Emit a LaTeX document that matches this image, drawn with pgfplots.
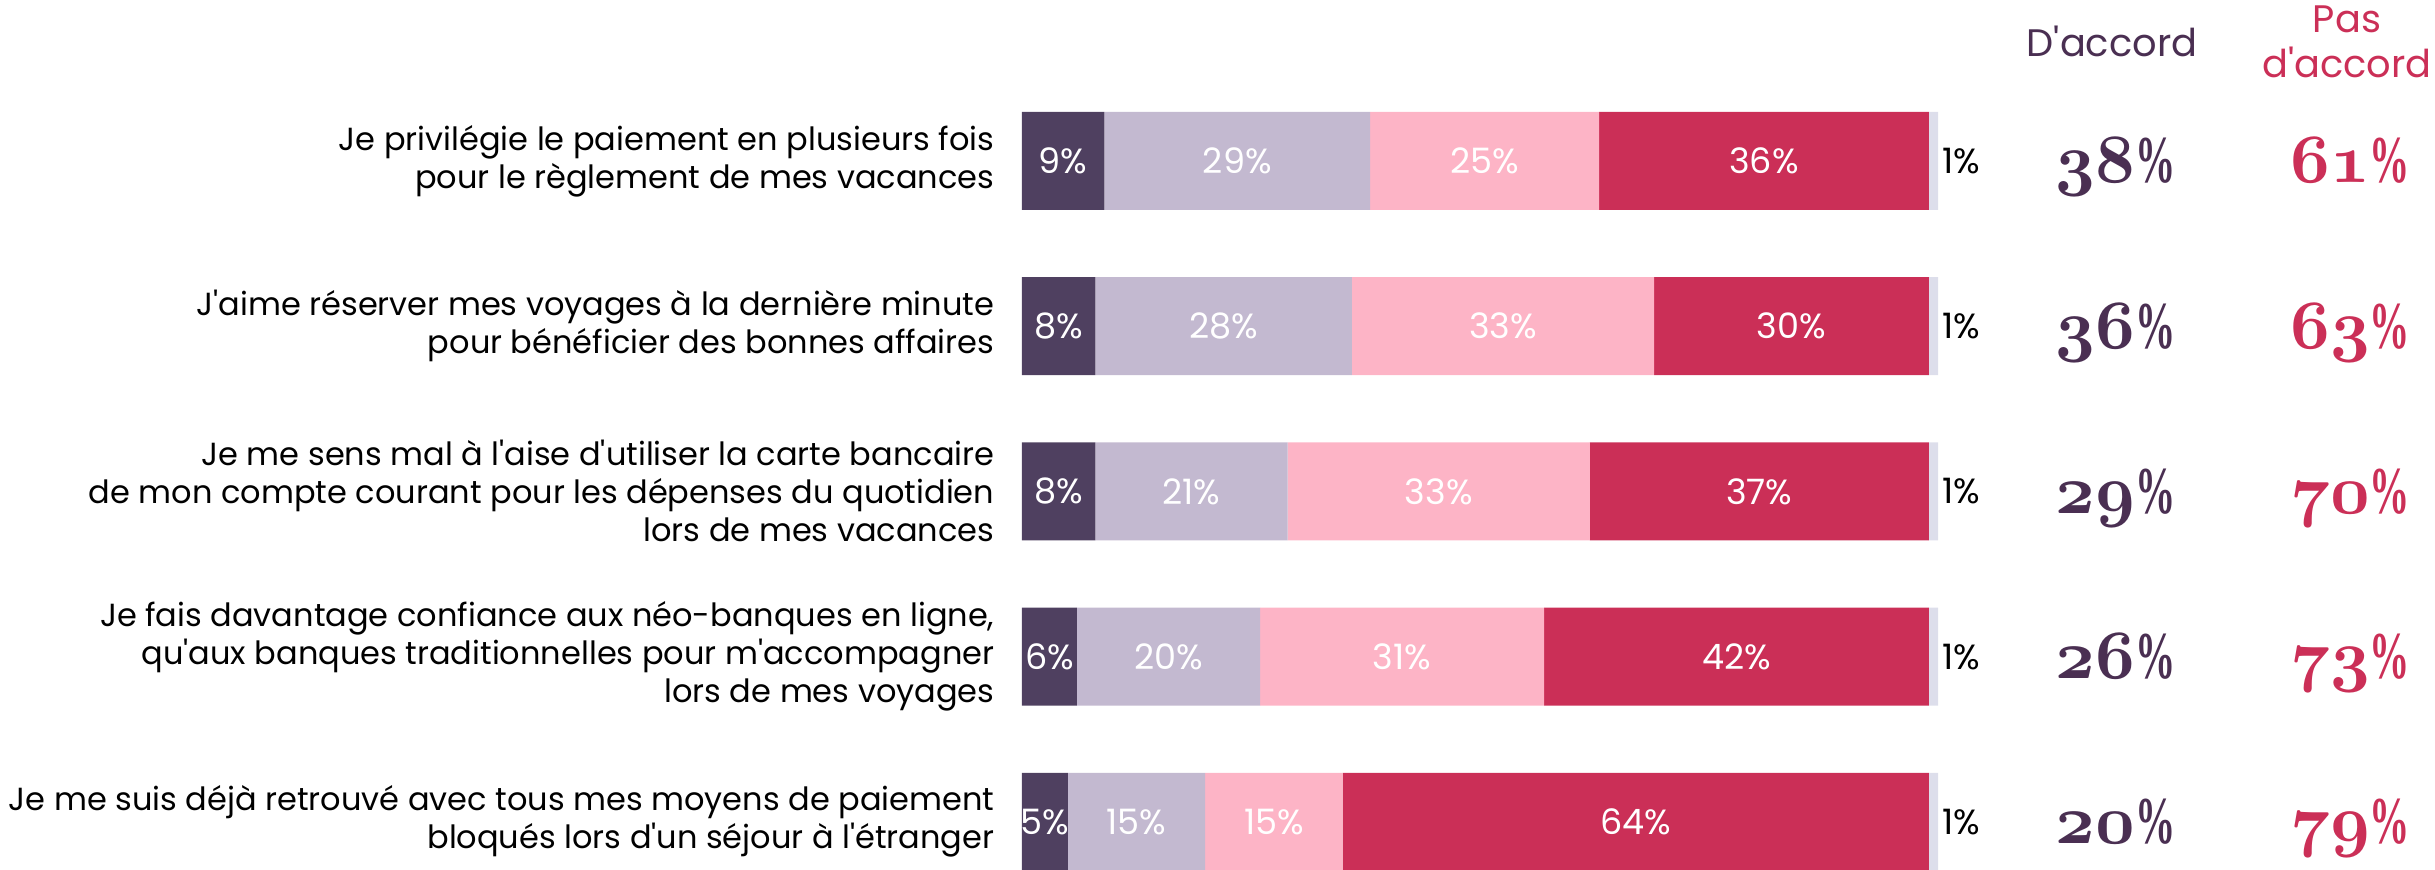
\documentclass[border=0pt]{standalone}
\usepackage{pgfplots}
\pgfplotsset{compat=1.18}
\usepackage{pgfplotstable}
\usepackage{graphicx}
\usepackage{fontspec}
\setmainfont{Poppins}[Ligatures=TeXOff]
\newfontfamily\numpct{Liberation Serif}
\definecolor{c1}{HTML}{4F4060}
\definecolor{c2}{HTML}{C3B9D0}
\definecolor{c3}{HTML}{FDB4C6}
\definecolor{c4}{HTML}{CB2F57}
\definecolor{c5}{HTML}{DDDEEB}
\definecolor{dacc}{HTML}{4A2F52}
\definecolor{pacc}{HTML}{CB2F57}
\newcommand\osf[1]{{\usefont{OML}{cmm}{b}{it}#1}}
\newcommand\pct{\scalebox{0.62}[1.03]{\numpct\bfseries\%}}

\pgfplotstableread{
row t1 t2 t3 t4 t5 acc pas
5 9 29 25 36 1 38 61
4 8 28 33 30 1 36 63
3 8 21 33 37 1 29 70
2 6 20 31 42 1 26 73
1 5 15 15 64 1 20 79
}\data

\pgfplotsset{
  base/.style={
    at={(306.6pt,-10.32pt)}, anchor=south west,
    scale only axis, width=274.8pt, height=247.8pt,
    xmin=0, xmax=100, ymin=0.5, ymax=5.5,
    axis line style={draw=none}, tick style={draw=none},
    xtick=\empty, clip=false,
  }
}

\begin{document}
\begin{tikzpicture}
\begin{axis}[base,
  xbar stacked, bar width=29.4pt,
  ytick={1,2,3,4,5},
  yticklabels={
    {Je me suis déjà retrouvé avec tous mes moyens de paiement\\bloqués lors d'un séjour à l'étranger},
    {Je fais davantage confiance aux néo-banques en ligne,\\qu'aux banques traditionnelles pour m'accompagner\\lors de mes voyages},
    {Je me sens mal à l'aise d'utiliser la carte bancaire\\de mon compte courant pour les dépenses du quotidien\\lors de mes vacances},
    {J'aime réserver mes voyages à la dernière minute\\pour bénéficier des bonnes affaires},
    {Je privilégie le paiement en plusieurs fois\\pour le règlement de mes vacances}},
  y tick label style={align=right, anchor=east, inner sep=0pt, xshift=-8.1pt,
    font=\fontsize{9.6}{11.4}\selectfont},
  visualization depends on={rawx \as \rawx},
  nodes near coords={\pgfmathprintnumber[assume math mode=true, fixed, precision=0]{\rawx}\%},
  nodes near coords style={font=\fontsize{10.5}{12}\selectfont, text=white,
    anchor=center, inner sep=0pt},
]
\addplot[fill=c1, draw=none] table[x=t1, y=row]{\data};
\addplot[fill=c2, draw=none] table[x=t2, y=row]{\data};
\addplot[fill=c3, draw=none] table[x=t3, y=row]{\data};
\addplot[fill=c4, draw=none] table[x=t4, y=row]{\data};
\addplot[fill=c5, draw=none, nodes near coords style={text=black, anchor=west, xshift=2.6pt}] table[x=t5, y=row]{\data};
\end{axis}
\begin{axis}[base, ytick=\empty]
\addplot[draw=none, nodes near coords={\osf{\pgfplotspointmeta}\pct}, point meta=explicit symbolic,
  nodes near coords style={text=dacc, anchor=base, yshift=-6.6pt, font=\fontsize{19.5}{19.5}\selectfont}]
  table[x expr=119.4, y=row, meta=acc]{\data};
\addplot[draw=none, nodes near coords={\osf{\pgfplotspointmeta}\pct}, point meta=explicit symbolic,
  nodes near coords style={text=pacc, anchor=base, yshift=-6.6pt, font=\fontsize{19.5}{19.5}\selectfont}]
  table[x expr=145.0, y=row, meta=pas]{\data};
\end{axis}
\node[anchor=base, text=dacc, font=\fontsize{11.5}{13}\selectfont, inner sep=0pt] at (633.6pt,243.9pt) {D'accord};
\node[anchor=base, text=pacc, font=\fontsize{11.5}{13}\selectfont, inner sep=0pt] at (704.1pt,251.1pt) {Pas};
\node[anchor=base, text=pacc, font=\fontsize{11.5}{13}\selectfont, inner sep=0pt] at (704.1pt,237.6pt) {d'accord};
\pgfresetboundingbox
\path[use as bounding box] (0,0) rectangle (730.5pt,261pt);
\end{tikzpicture}
\end{document}
